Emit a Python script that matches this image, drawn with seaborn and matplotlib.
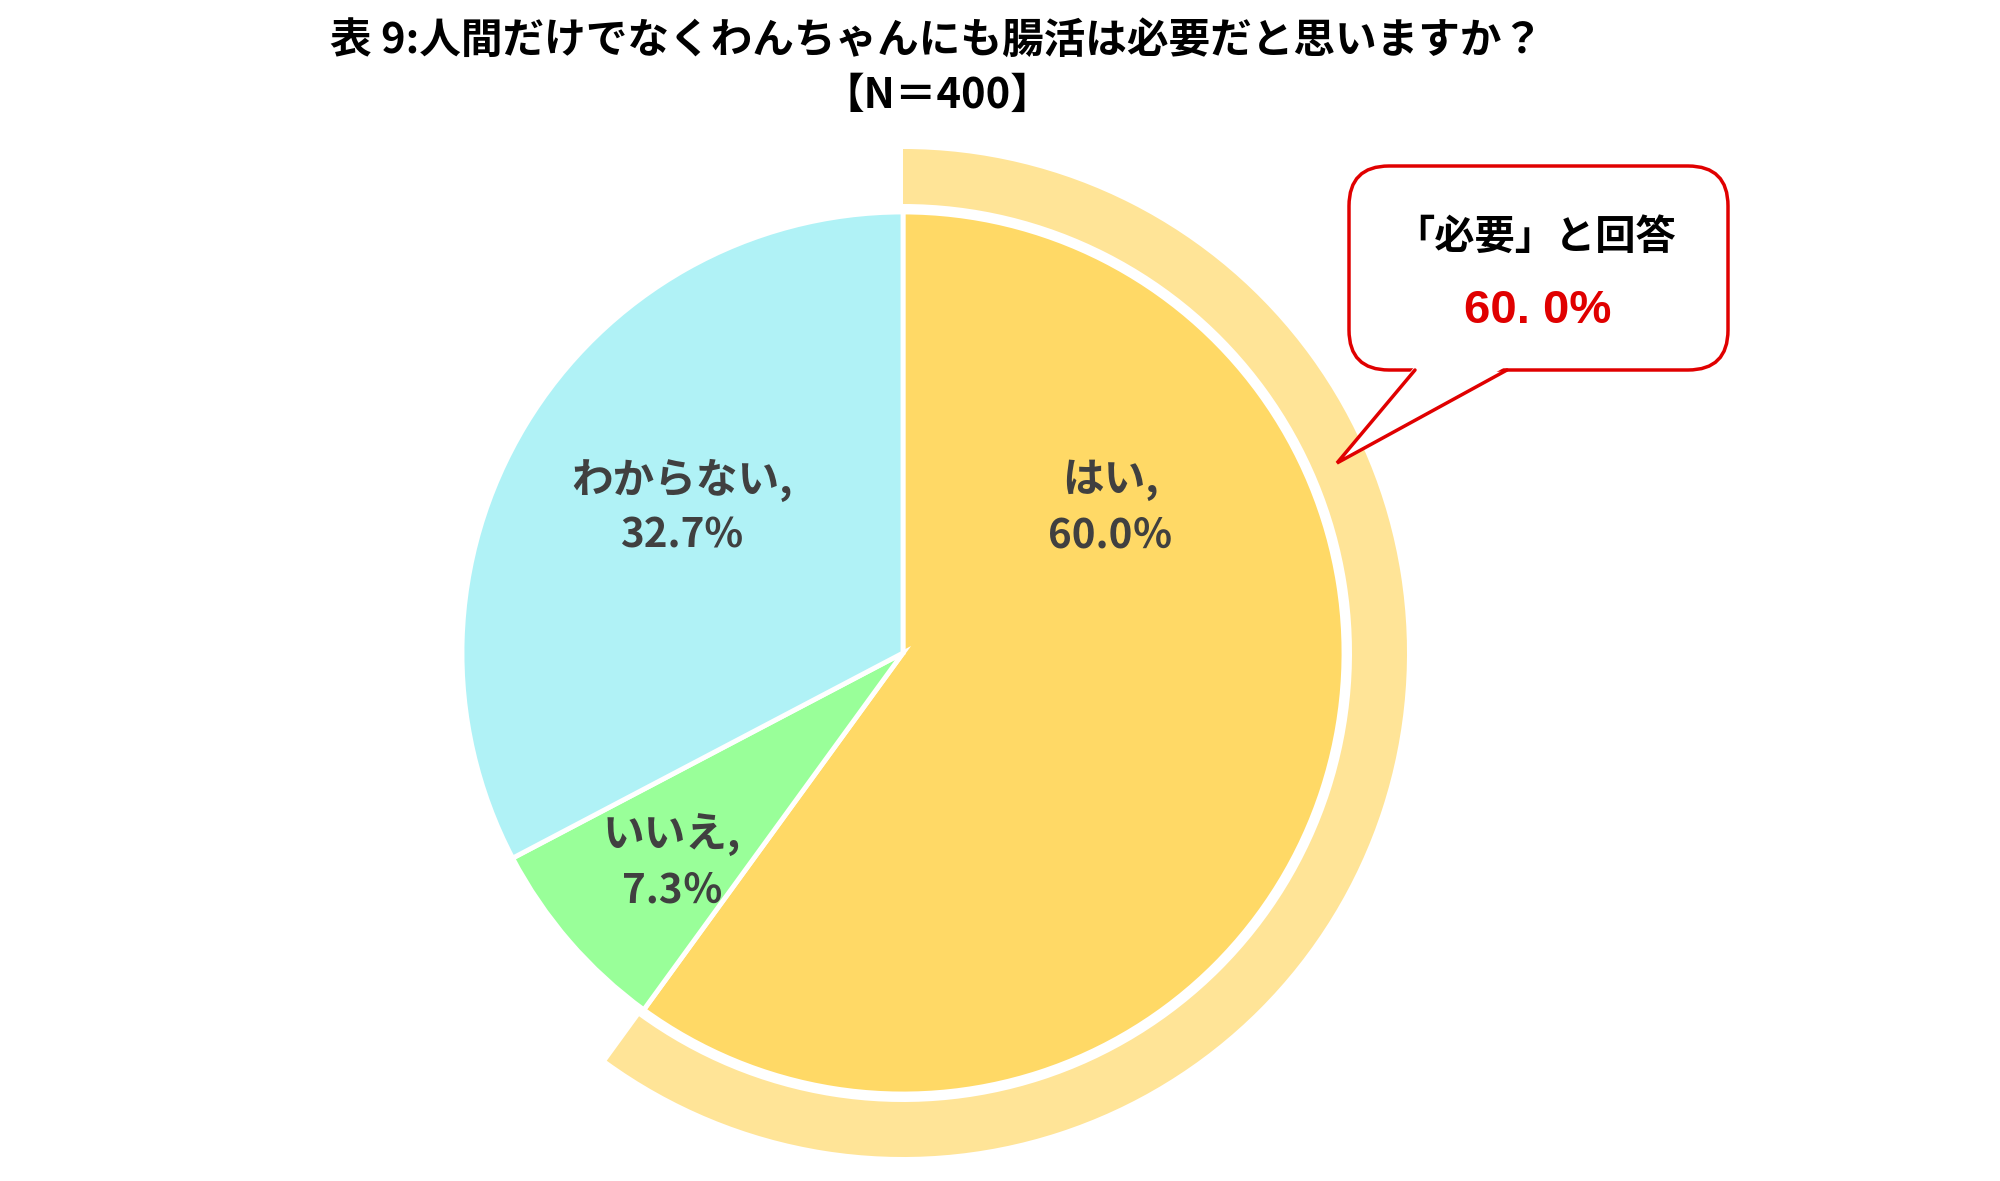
import matplotlib
matplotlib.use("Agg")
import matplotlib.pyplot as plt
import seaborn as sns
from matplotlib.patches import FancyBboxPatch, Polygon

# ─────────────────────────────
# DATA
# ─────────────────────────────
labels   = ["はい", "いいえ", "わからない"]
values   = [60.0, 7.3, 32.7]
pct_text = ["60.0％", "7.3％", "32.7%"]
colors   = ["#FFD966", "#99FF99", "#B0F2F6"]

highlight_value = values[0]          # the "必要" share shown in the ring + callout
title_1 = "表 9:人間だけでなくわんちゃんにも腸活は必要だと思いますか？"
title_2 = "【N＝400】"
callout_1 = "「必要」と回答"
callout_2 = "60. 0%"

# ─────────────────────────────
# SETUP
# ─────────────────────────────
sns.set_theme(style="white")
plt.rcParams["font.family"] = ["Noto Sans CJK JP", "DejaVu Sans"]

W, H = 2000, 1181
fig = plt.figure(figsize=(W / 100, H / 100), dpi=100)
ax = fig.add_axes([0, 0, 1, 1])

def Y(y):
    # pixel rows are measured from the top
    return H - y

cx, cy = 903, Y(653)
R = 441

# outer highlight ring for "はい"
ax.pie([highlight_value, 100 - highlight_value], radius=504, center=(cx, cy),
       startangle=90, counterclock=False, colors=["#FFE497", "none"],
       wedgeprops=dict(width=55, edgecolor="none"))

# main pie
wedges, _ = ax.pie(values, radius=R, center=(cx, cy), startangle=90,
                   counterclock=False, colors=colors,
                   wedgeprops=dict(edgecolor="white", linewidth=3.5))

ax.set_xlim(0, W)
ax.set_ylim(0, H)
ax.set_aspect("equal")
ax.axis("off")

# slice labels
label_pos = [(1110, 480), (672, 835), (682, 480)]
for lab, pct, (x, y) in zip(labels, pct_text, label_pos):
    ax.text(x, Y(y), lab + ",", ha="center", va="center",
            fontsize=30, color="#404040", fontweight="bold")
    ax.text(x, Y(y + 56), pct, ha="center", va="center",
            fontsize=29, color="#404040", fontweight="bold")

# title
ax.text(937, Y(42), title_1, ha="center", va="center",
        fontsize=30, fontweight="bold", color="black")
ax.text(937, Y(96), title_2, ha="center", va="center",
        fontsize=30, fontweight="bold", color="black")

# ─────────────────────────────
# CALLOUT
# ─────────────────────────────
red = "#E00000"
box = FancyBboxPatch((1349, Y(370)), 1728 - 1349, 370 - 166,
                     boxstyle="round,pad=0,rounding_size=40",
                     facecolor="white", edgecolor=red, linewidth=2.5, zorder=5)
ax.add_patch(box)
tip = (1337, Y(463))
bl, br = (1415, Y(370)), (1507, Y(370))
ax.add_patch(Polygon([tip, (bl[0], bl[1] + 4), (br[0], br[1] + 4)],
                     closed=True, facecolor="white", edgecolor="none", zorder=6))
ax.plot([bl[0], tip[0], br[0]], [bl[1], tip[1], br[1]], color=red,
        linewidth=2.5, zorder=7, solid_joinstyle="miter")

ax.text(1535, Y(237), callout_1, ha="center", va="center", fontsize=29,
        fontweight="bold", color="black", zorder=8)
ax.text(1538, Y(311), callout_2, ha="center", va="center", fontsize=34,
        fontweight="bold", color=red, zorder=8,
        family=["Liberation Sans", "DejaVu Sans"])

fig.savefig("out.png", dpi=100, facecolor="white")
